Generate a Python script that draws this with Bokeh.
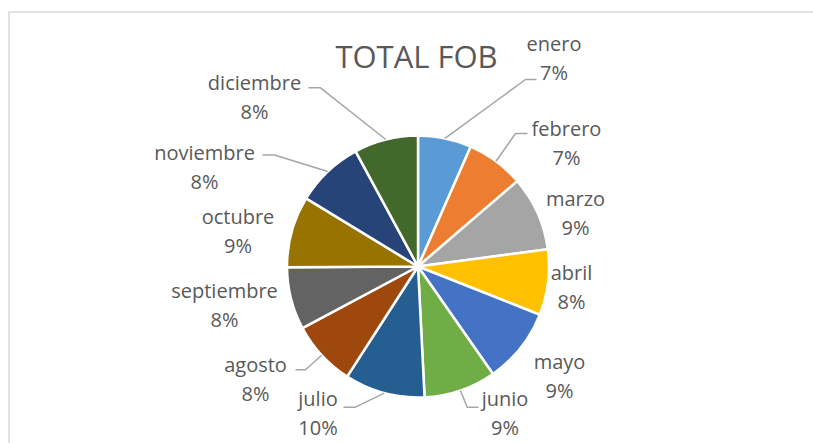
import math
from bokeh.plotting import figure
from bokeh.models import Range1d, ColumnDataSource
from bokeh.core.properties import value
from bokeh.embed import file_html
from bokeh.resources import INLINE

# ---------------- data ----------------
title_text = "TOTAL FOB"
months = ["enero", "febrero", "marzo", "abril", "mayo", "junio",
          "julio", "agosto", "septiembre", "octubre", "noviembre", "diciembre"]
shares = [6.6, 7.1, 9.2, 8.1, 9.3, 8.9, 9.9, 8.1, 7.7, 8.8, 8.4, 7.9]
colors = ["#5B9BD5", "#ED7D31", "#A5A5A5", "#FFC000", "#4472C4", "#70AD47",
          "#255E91", "#9E480E", "#636363", "#997300", "#264478", "#43682B"]

# ---------------- layout (page pixels, y downwards) ----------------
CX, CY, R = 417.5, 266.0, 131.0
label_x = [553.5, 566, 575, 571, 559, 504.5, 317.5, 255, 224, 237.5, 204, 254]
label_base = [43, 128, 198, 272, 361, 398, 398, 364, 290, 216, 152, 82]
LINE_GAP = 28.5
# leader: index -> (elbow_x, elbow_y, end_x)
leaders = {0: (525, 79, 536), 1: (515, 133, 527), 5: (466.7, 406.7, 478),
           6: (355, 406.7, 343), 7: (305, 369.3, 295), 10: (274, 154.5, 262),
           11: (320, 87.3, 308)}
TEXT_COLOR = "#595959"
FONT = "Open Sans"

W, H = 813, 443
p = figure(width=W, height=H, output_backend="svg", toolbar_location=None,
           x_range=Range1d(0, W), y_range=Range1d(-H, 0),
           min_border=0, x_axis_location=None, y_axis_location=None)
p.grid.visible = False
p.outline_line_color = None
p.background_fill_color = "white"
p.border_fill_color = "white"

# chart-area border (top and left visible)
p.quad(left=[8.5], right=[2000], top=[-11.5], bottom=[-2000],
       fill_color=None, line_color="#D9D9D9", line_width=1.5)

# wedges
total = sum(shares)
starts, ends, mids = [], [], []
cum = 0.0
for v in shares:
    a1 = cum / total * 2 * math.pi
    cum += v
    a2 = cum / total * 2 * math.pi
    starts.append(math.pi / 2 - a2)
    ends.append(math.pi / 2 - a1)
    mids.append((a1 + a2) / 2)

src = ColumnDataSource(dict(start=starts, end=ends, color=colors, month=months))
p.wedge(x=CX, y=-CY, radius=R, start_angle="start", end_angle="end",
        fill_color="color", line_color="white", line_width=2.5, source=src)

# leader lines
xs, ys = [], []
for i, (ex, ey, tx) in leaders.items():
    px = CX + R * math.sin(mids[i])
    py = CY - R * math.cos(mids[i])
    xs.append([px, ex, tx])
    ys.append([-py, -ey, -ey])
p.multi_line(xs=xs, ys=ys, line_color="#A6A6A6", line_width=1.5)

# labels
pct = [f"{round(v / total * 100)}%" for v in shares]
lab = ColumnDataSource(dict(
    x=label_x + label_x,
    y=[-b for b in label_base] + [-(b + LINE_GAP) for b in label_base],
    t=months + pct))
p.text(x="x", y="y", text="t", source=lab, text_align="center",
       text_baseline="alphabetic", text_font=value(FONT),
       text_font_size="20px", text_color=TEXT_COLOR)

# title
p.text(x=[416], y=[-55], text=[title_text], text_align="center",
       text_baseline="alphabetic", text_font=value(FONT),
       text_font_size="31px", text_color=TEXT_COLOR)

open("out.html", "w").write(file_html(p, INLINE))
